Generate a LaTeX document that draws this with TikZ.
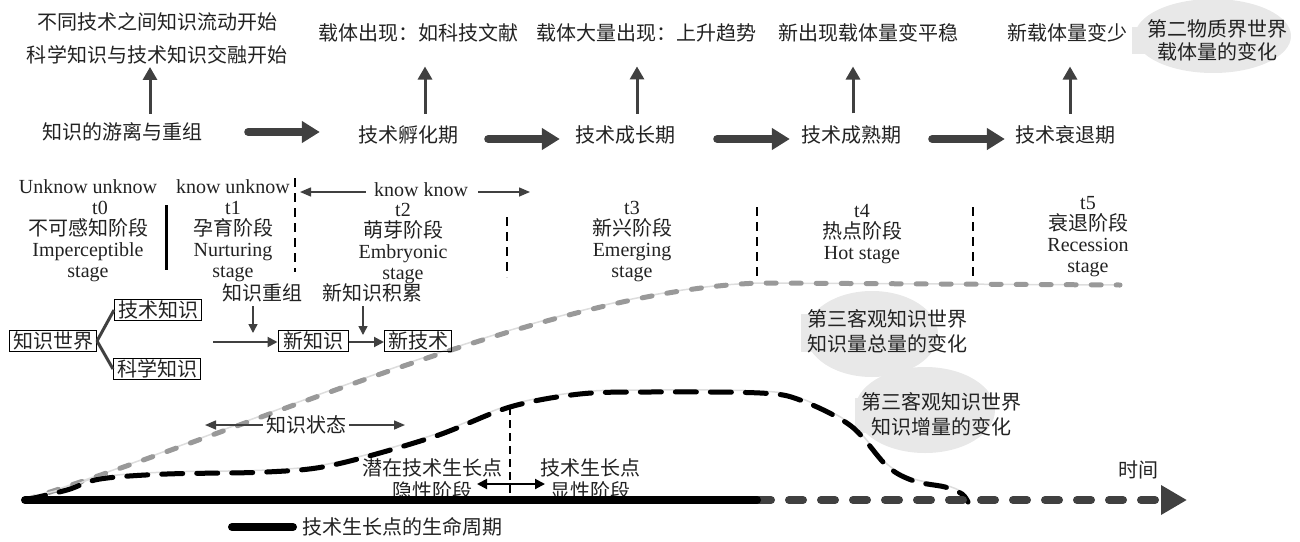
\documentclass[tikz,border=0pt]{standalone}
\usepackage{fontspec}
\setmainfont{Liberation Serif}
\newfontfamily\cjk{Noto Sans CJK SC}
\usetikzlibrary{arrows.meta}
\definecolor{dk}{HTML}{404040}
\definecolor{txt}{HTML}{222222}
\definecolor{bub}{HTML}{E8E8E8}
\definecolor{gcurve}{HTML}{999999}
\definecolor{shadow}{HTML}{DDDDDD}
\newcommand\incpathpts{(25,500) (67,490) (100,479) (167,474) (267,472) (333,465) (433,437) (510,407) (580,394) (650,392) (760,393) (800,400) (851,426) (887,466) (914,481) (945,487) (962,494) (968,502)}
\begin{document}
\begin{tikzpicture}[x=1pt,y=-1pt,
  every node/.style={inner sep=0pt, text=txt, font=\fontsize{20}{21}\selectfont},
  zh/.style={font=\fontsize{20}{22}\selectfont\cjk},
  col/.style={align=center, font=\fontsize{20}{21}\selectfont},
  box/.style={zh, draw=black, line width=1pt, inner xsep=3.5pt, inner ysep=1.5pt},
  bigarrow/.style={dk, line width=8pt, line cap=round, -{Triangle[length=18pt,width=21pt]}},
  uparrow/.style={dk, line width=3pt, -{Triangle[length=13pt,width=14pt]}},
  smallarrow/.style={dk, line width=1.5pt, -{Triangle[length=9pt,width=9pt]}},
  flowarrow/.style={dk, line width=2pt, -{Triangle[length=10pt,width=10pt]}},
  thinarrow/.style={dk, line width=1.5pt, -{Triangle[length=11pt,width=9pt]}},
  dblarrow/.style={black, line width=2pt, {Triangle[length=10pt,width=10pt]}-{Triangle[length=10pt,width=10pt]}},
  treeline/.style={dk, line width=3pt},
  vdash/.style={black, line width=2.8pt, dash pattern=on 9pt off 6pt},
  vsolid/.style={black, line width=3pt},
  totalcurve/.style={gcurve, line width=5pt, line cap=round, dash pattern=on 10pt off 15pt},
  inccurve/.style={black, line width=5pt, line cap=round, dash pattern=on 21pt off 14pt},
  shadowline/.style={shadow, line width=1.5pt},
  axissolid/.style={black, line width=8pt, line cap=round},
  axisdash/.style={dk, line width=8pt, line cap=round, dash pattern=on 14pt off 18pt, -{Triangle[length=26pt,width=28pt]}},
  legendline/.style={black, line width=8pt, line cap=round}
]
\useasboundingbox (0,0) rectangle (1300,541);

% ---------- background bubbles ----------
\fill[bub] (1213,36) ellipse [x radius=78pt, y radius=37pt];
\fill[bub] (1132,27) rectangle (1180,54);
\fill[bub] (872,334) ellipse [x radius=66pt, y radius=43pt];
\fill[bub] (801,314) rectangle (850,352);
\fill[bub] (925,410) ellipse [x radius=70pt, y radius=43pt];
\fill[bub] (855,398) rectangle (900,433);

% ---------- top row ----------
\node[zh, align=center, font=\fontsize{20}{33}\selectfont\cjk] (t0) at (157,38) {不同技术之间知识流动开始\\科学知识与技术知识交融开始};
\node[zh] (ta) at (418,33) {载体出现：如科技文献};
\node[zh] (tb) at (646,33) {载体大量出现：上升趋势};
\node[zh] (tc) at (868,33) {新出现载体量变平稳};
\node[zh] (td) at (1067,33) {新载体量变少};
\node[zh, align=center, font=\fontsize{20}{23}\selectfont\cjk] (tq) at (1217,40) {第二物质界世界\\载体量的变化};

\node[zh] (p0) at (122,132) {知识的游离与重组};
\node[zh] (p1) at (408,135) {技术孵化期};
\node[zh] (p2) at (625,135) {技术成长期};
\node[zh] (p3) at (851,135) {技术成熟期};
\node[zh] (p4) at (1065,135) {技术衰退期};

\draw[bigarrow, shorten <=46pt, shorten >=38pt] (p0.east) -- (p1.west |- p0.east);
\draw[bigarrow, shorten <=30pt, shorten >=15pt] ([yshift=-4pt]p1.east) -- ([yshift=-4pt]p2.west);
\draw[bigarrow, shorten <=42pt, shorten >=11pt] ([yshift=-4pt]p2.east) -- ([yshift=-4pt]p3.west);
\draw[bigarrow, shorten <=31pt, shorten >=10pt] ([yshift=-4pt]p3.east) -- ([yshift=-4pt]p4.west);

\coordinate (ux0) at (150,0);
\coordinate (ux1) at (425,0);
\coordinate (ux2) at (637,0);
\coordinate (ux3) at (853,0);
\coordinate (ux4) at (1070,0);
\draw[uparrow, shorten <=9pt, shorten >=3pt] (p0.north -| ux0) -- (t0.south -| ux0);
\draw[uparrow, shorten <=12pt, shorten >=24pt] (p1.north -| ux1) -- (ta.south -| ux1);
\draw[uparrow, shorten <=12pt, shorten >=24pt] (p2.north -| ux2) -- (tb.south -| ux2);
\draw[uparrow, shorten <=12pt, shorten >=24pt] (p3.north -| ux3) -- (tc.south -| ux3);
\draw[uparrow, shorten <=12pt, shorten >=24pt] (p4.north -| ux4) -- (td.south -| ux4);

% ---------- stage labels ----------
\node[col] (c0) at (88,231) {Unknow unknow\\\hspace*{24pt}t0\\{\cjk 不可感知阶段}\\Imperceptible\\stage};
\node[col] (c1) at (233,231) {know unknow\\t1\\{\cjk 孕育阶段}\\Nurturing\\stage};
\node (kk) at (421,190) {know know};
\node[col] (c2) at (403,244) {t2\\{\cjk 萌芽阶段}\\Embryonic\\stage};
\node[col] (c3) at (632,242) {t3\\{\cjk 新兴阶段}\\Emerging\\stage};
\node[col] (c4) at (862,234) {t4\\{\cjk 热点阶段}\\Hot stage};
\node[col] (c5) at (1088,237) {t5\\{\cjk 衰退阶段}\\Recession\\stage};

\coordinate (kkL) at (300,192);
\coordinate (kkR) at (530,192);
\draw[thinarrow, shorten <=8pt] (kk.west |- kkL) -- (kkL);
\draw[thinarrow, shorten <=10pt] (kk.east |- kkR) -- (kkR);

\draw[vsolid] (166,205) -- (166,270);
\draw[vdash] (295,178) -- (295,272);
\draw[vdash] (507,217) -- (507,277);
\draw[vdash] (757,207) -- (757,280);
\draw[vdash] (973,207) -- (973,280);

% ---------- curves ----------
\coordinate (O) at (25,500);
\coordinate (g1) at (760,283);
\coordinate (g2) at (1120,285);
\draw[shadowline, yshift=2pt] (O) .. controls (250,430) and (550,290) .. (g1) -- (g2);
\draw[totalcurve] (O) .. controls (250,430) and (550,290) .. (g1) -- (g2);
\draw[shadowline, yshift=2pt] plot[smooth, tension=0.55] coordinates {\incpathpts};
\draw[inccurve] plot[smooth, tension=0.55] coordinates {\incpathpts};

% ---------- knowledge world tree ----------
\node[box] (kw) at (53,341) {知识世界};
\node[box] (tk) at (158,310) {技术知识};
\node[box] (kx) at (157,369) {科学知识};
\draw[treeline] (kw.east) -- (tk.west);
\draw[treeline] (kw.east) -- (kx.west);

\node[box, inner xsep=5pt] (nk) at (313,341) {新知识};
\node[box, inner xsep=3.5pt] (nt) at (418,341) {新技术};
\coordinate (s0) at (213,342);
\draw[flowarrow] (s0) -- (nk.west |- s0);
\draw[flowarrow] (nk.east |- s0) -- (nt.west |- s0);

\node[zh] (kr) at (262,293) {知识重组};
\node[zh] (nka) at (372,293) {新知识积累};
\coordinate (d1) at (253,333);
\coordinate (d2) at (363,335);
\draw[smallarrow, shorten <=4pt] (kr.south -| d1) -- (d1);
\draw[smallarrow, shorten <=4pt] (nka.south -| d2) -- (d2);

% ---------- knowledge state ----------
\node[zh] (ks) at (306,425) {知识状态};
\coordinate (ksl) at (205,425);
\coordinate (ksr) at (405,425);
\draw[thinarrow, shorten <=3pt] (ks.west) -- (ksl);
\draw[thinarrow, shorten <=3pt] (ks.east) -- (ksr);

% ---------- growth point ----------
\draw[black, line width=1.5pt, dash pattern=on 8pt off 5pt] (510,407) -- (510,497);
\node[zh, align=center, font=\fontsize{20}{23}\selectfont\cjk] (ls) at (432,479) {潜在技术生长点\\隐性阶段};
\node[zh, align=center, font=\fontsize{20}{23}\selectfont\cjk] (rs) at (590,479) {技术生长点\\显性阶段};
\coordinate (da1) at (477,484);
\coordinate (da2) at (545,484);
\draw[dblarrow] (da1) -- (da2);

% ---------- ellipse texts ----------
\node[zh, align=center, font=\fontsize{20}{25}\selectfont\cjk] (e1t) at (887,331) {第三客观知识世界\\知识量总量的变化};
\node[zh, align=center, font=\fontsize{20}{25}\selectfont\cjk] (e2t) at (941,414) {第三客观知识世界\\知识增量的变化};

% ---------- time axis ----------
\coordinate (M) at (757,500);
\coordinate (E) at (1187,500);
\draw[axisdash] (M) -- (E);
\draw[axissolid] (O) -- (M);
\node[zh] (time) at (1138,470) {时间};

% ---------- legend ----------
\coordinate (lgA) at (232,527);
\coordinate (lgB) at (293,527);
\draw[legendline] (lgA) -- (lgB);
\node[zh] (lg) at (402,527) {技术生长点的生命周期};
\end{tikzpicture}
\end{document}
